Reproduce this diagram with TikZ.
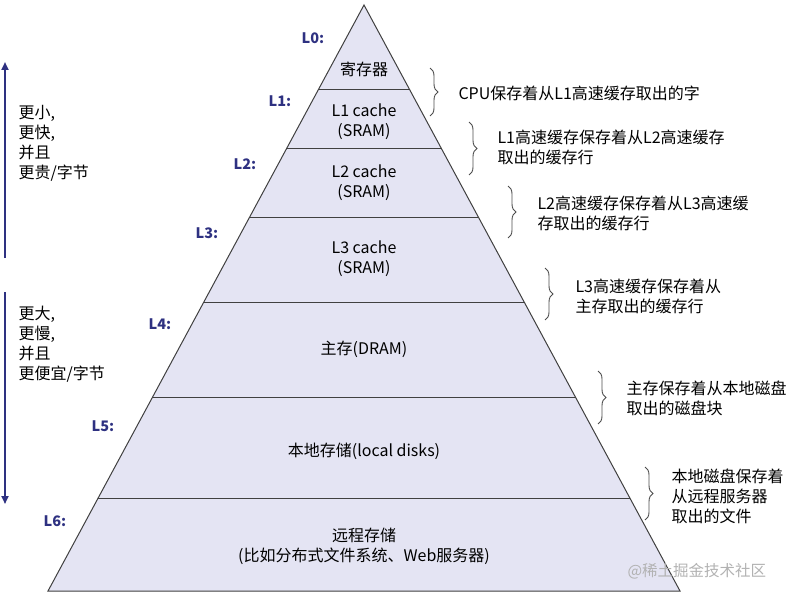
\documentclass[tikz,border=0pt]{standalone}
\usepackage{fontspec}
\setmainfont{Noto Sans CJK SC}
\usetikzlibrary{decorations.pathreplacing,arrows.meta}
\definecolor{fillc}{HTML}{E4E4F3}
\definecolor{lvl}{HTML}{2E3181}
\begin{document}
\begin{tikzpicture}[x=1pt,y=-1pt,
  lev/.style={font=\fontsize{14.5}{16}\selectfont\bfseries, text=lvl},
  txt/.style={font=\fontsize{16}{20}\selectfont, align=center},
  note/.style={font=\fontsize{16}{20}\selectfont, align=left, anchor=west},
  br/.style={draw=black!70, line width=0.9pt, decorate, decoration={brace,amplitude=8pt}},
  ar/.style={draw=lvl, line width=2.2pt, -{Triangle[length=8pt,width=7pt]}}]
\useasboundingbox (0,0) rectangle (794,599);
\coordinate (apex) at (364,5);
\coordinate (bl) at (48,591);
\coordinate (br) at (680,591);
\fill[fillc] (apex) -- (bl) -- (br) -- cycle;
\foreach \yy in {90,148,217,302,397,498}{
  \pgfmathsetmacro\hw{(\yy-5)/586*316}
  \draw[line width=1pt, black!75] ({364-\hw},\yy) -- ({364+\hw},\yy);
}
\draw[line width=1pt, black!75] (apex) -- (bl) -- (br) -- cycle;
\node[txt] (t0) at (364,69) {寄存器};
\node[txt] (t1) at (364,122) {L1 cache\\(SRAM)};
\node[txt] (t2) at (364,183) {L2 cache\\(SRAM)};
\node[txt] (t3) at (364,259) {L3 cache\\(SRAM)};
\node[txt] (t4) at (364,349) {主存(DRAM)};
\node[txt] (t5) at (364,451) {本地存储(local disks)};
\node[txt] (t6) at (364,546) {远程存储\\(比如分布式文件系统、Web服务器)};
\node[lev] (l0) at (313,38) {L0:};
\node[lev] (l1) at (280,101) {L1:};
\node[lev] (l2) at (245,164) {L2:};
\node[lev] (l3) at (207,233) {L3:};
\node[lev] (l4) at (160,324) {L4:};
\node[lev] (l5) at (103,426) {L5:};
\node[lev] (l6) at (55,521) {L6:};
\coordinate (a1s) at (5,258); \coordinate (a1e) at (5,62);
\coordinate (a2s) at (5,292); \coordinate (a2e) at (5,504);
\draw[ar] (a1s) -- (a1e);
\draw[ar] (a2s) -- (a2e);
\node[note] (sm) at (15,143) {更小,\\更快,\\并且\\更贵/字节};
\node[note] (bg) at (15,344) {更大,\\更慢,\\并且\\更便宜/字节};
\coordinate (b1a) at (430,68); \coordinate (b1b) at (430,116);
\coordinate (b2a) at (469,122); \coordinate (b2b) at (469,175);
\coordinate (b3a) at (508,186); \coordinate (b3b) at (508,238);
\coordinate (b4a) at (545,268); \coordinate (b4b) at (545,320);
\coordinate (b5a) at (598,371); \coordinate (b5b) at (598,424);
\coordinate (b6a) at (645,467); \coordinate (b6b) at (645,520);
\draw[br] (b1a) -- (b1b);
\draw[br] (b2a) -- (b2b);
\draw[br] (b3a) -- (b3b);
\draw[br] (b4a) -- (b4b);
\draw[br] (b5a) -- (b5b);
\draw[br] (b6a) -- (b6b);
\node[note] (n1) at (455,93) {CPU保存着从L1高速缓存取出的字};
\node[note] (n2) at (494,147) {L1高速缓存保存着从L2高速缓存\\取出的缓存行};
\node[note] (n3) at (534,213) {L2高速缓存保存着从L3高速缓\\存取出的缓存行};
\node[note] (n4) at (572,296) {L3高速缓存保存着从\\主存取出的缓存行};
\node[note] (n5) at (623,398) {主存保存着从本地磁盘\\取出的磁盘块};
\node[note] (n6) at (668,496) {本地磁盘保存着\\从远程服务器\\取出的文件};
\node[note, text=black!30, font=\fontsize{15.5}{16}\selectfont] (wm) at (624,571) {@稀土掘金技术社区};
\end{tikzpicture}
\end{document}
